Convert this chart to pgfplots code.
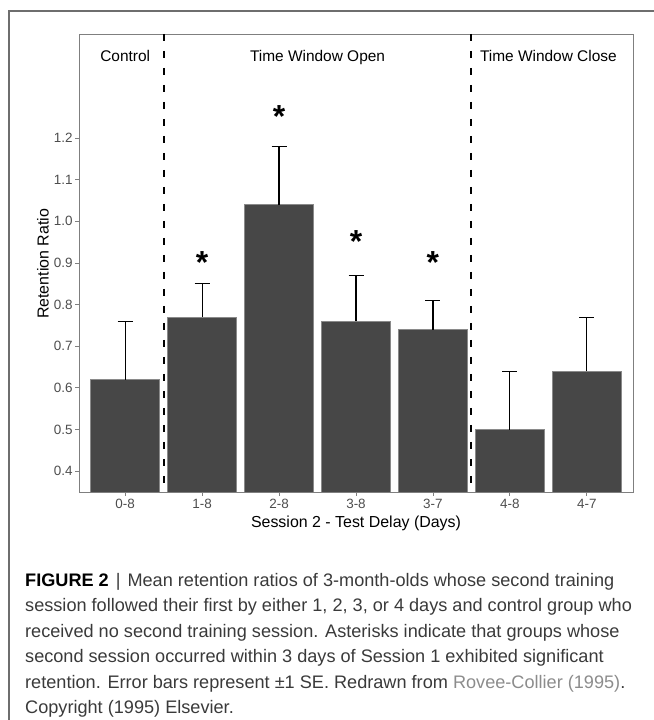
\documentclass[border=0pt]{standalone}
\usepackage{fontspec}
\setmainfont{Liberation Sans}
\usepackage{pgfplots}
\pgfplotsset{compat=1.18}
\definecolor{barfill}{HTML}{474747}
\definecolor{barline}{HTML}{8A8A8A}
\definecolor{axgray}{HTML}{7F7F7F}
\definecolor{ticktext}{HTML}{4D4D4D}
\definecolor{captext}{HTML}{3A3A3A}
\definecolor{linkgray}{HTML}{8C8C8C}
\definecolor{framegray}{HTML}{6E6E6E}
\begin{document}
\begin{tikzpicture}[x=1bp,y=1bp]
\useasboundingbox (0,0) rectangle (654,720);
\draw[framegray, line width=1.2bp] (9,0) -- (9,709) -- (654,709);
\begin{axis}[
  at={(79bp,228bp)}, anchor=south west,
  scale only axis, width=554bp, height=458bp,
  xmin=0.4, xmax=7.6, ymin=0.35, ymax=1.45,
  xtick={1,...,7}, xticklabels={0-8,1-8,2-8,3-8,3-7,4-8,4-7},
  ytick={0.4,0.5,0.6,0.7,0.8,0.9,1.0,1.1,1.2},
  /pgf/number format/assume math mode=true,
  yticklabel style={/pgf/number format/fixed, /pgf/number format/fixed zerofill, /pgf/number format/precision=1, xshift=1bp},
  axis line style={axgray, line width=0.9bp},
  tick style={axgray, line width=0.9bp},
  tick align=outside, tick pos=left, major tick length=4bp,
  ticklabel style={font=\fontsize{13.5}{15}\selectfont, text=ticktext},
  error bars/error bar style={line width=1.2bp, black},
  error bars/error mark options={rotate=90, line width=1.2bp, black, mark size=7.5bp},
]
\addplot[ybar, bar width=0.9, fill=barfill, draw=barline, line width=0.6bp,
  error bars/.cd, y dir=plus, y explicit]
  coordinates {
    (1,0.62) +- (0,0.14)
    (2,0.77) +- (0,0.08)
    (3,1.04) +- (0,0.14)
    (4,0.76) +- (0,0.11)
    (5,0.74) +- (0,0.07)
    (6,0.50) +- (0,0.14)
    (7,0.64) +- (0,0.13)
  };
\draw[black, line width=2bp, dash pattern=on 7.5bp off 9.5bp] (axis cs:1.5,1.45) -- (axis cs:1.5,0.35);
\draw[black, line width=2bp, dash pattern=on 7.5bp off 9.5bp] (axis cs:5.5,1.45) -- (axis cs:5.5,0.35);
\node[anchor=base, font=\fontsize{15.5}{17}\selectfont] at (axis cs:1,1.384) {Control};
\node[anchor=base, font=\fontsize{15.5}{17}\selectfont] at (axis cs:3.5,1.384) {Time Window Open};
\node[anchor=base, font=\fontsize{15.5}{17}\selectfont] at (axis cs:6.5,1.384) {Time Window Close};
\node[anchor=base, font=\bfseries\fontsize{32}{34}\selectfont] at (axis cs:2,0.875) {*};
\node[anchor=base, font=\bfseries\fontsize{32}{34}\selectfont] at (axis cs:3,1.226) {*};
\node[anchor=base, font=\bfseries\fontsize{32}{34}\selectfont] at (axis cs:4,0.925) {*};
\node[anchor=base, font=\bfseries\fontsize{32}{34}\selectfont] at (axis cs:5,0.875) {*};
\end{axis}
\node[rotate=90, anchor=center, inner sep=0pt, font=\fontsize{16}{18}\selectfont] at (43,456) {Retention Ratio};
\node[anchor=base, inner sep=0pt, font=\fontsize{16}{18}\selectfont] at (356,192.3) {Session 2 - Test Delay (Days)};
\begin{scope}[every node/.style={anchor=base west, inner sep=0pt, font=\fontsize{18.2}{21}\selectfont, text=captext}]
\node at (25,133.7) {{\color{black}\bfseries FIGURE 2}\hspace{7bp}{\color{captext}|}\hspace{7bp}Mean retention ratios of 3-month-olds whose second training};
\node at (25,108.2) {session followed their first by either 1, 2, 3, or 4 days and control group who};
\node at (25,82.7) {received no second training session. Asterisks indicate that groups whose};
\node at (25,57.2) {second session occurred within 3 days of Session 1 exhibited significant};
\node at (25,31.7) {retention. Error bars represent ±1 SE. Redrawn from {\color{linkgray}Rovee-Collier (1995)}.};
\node at (25,6.2) {Copyright (1995) Elsevier.};
\end{scope}
\end{tikzpicture}
\end{document}
